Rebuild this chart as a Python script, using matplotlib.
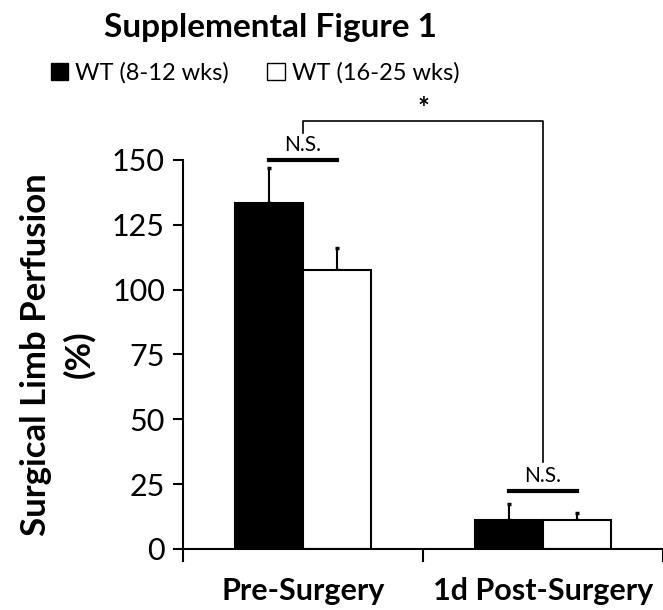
#!/usr/bin/env python3
"""Supplemental Figure 1: surgical limb perfusion, WT young vs old."""
import matplotlib
matplotlib.use("Agg")
import matplotlib.pyplot as plt
from matplotlib.patches import Patch
import numpy as np

plt.rcParams['font.family'] = ['Lato', 'DejaVu Sans']

groups = ['Pre-Surgery', '1d Post-Surgery']
series = ['WT (8-12 wks)', 'WT (16-25 wks)']
young = [133.4, 11.2]
young_err = [13.5, 6.2]
old = [107.6, 11.2]
old_err = [8.6, 2.6]
yticks = [0, 25, 50, 75, 100, 125, 150]
BLACK, WHITE = "#000000", "#FFFFFF"

fig = plt.figure(figsize=(6.63, 6.10), dpi=100)
ax = fig.add_axes([183/663, 0.1, 1 - 183/663, 0.638])

x = np.arange(len(groups))
w = 0.285
ax.bar(x - w/2, young, width=w, color=BLACK, edgecolor=BLACK, lw=1.5, zorder=2)
ax.bar(x + w/2, old, width=w, color=WHITE, edgecolor=BLACK, lw=1.5, zorder=2)
ax.errorbar(x - w/2, young, yerr=[np.zeros(2), young_err], fmt='none', ecolor=BLACK,
            elinewidth=1.5, capsize=1.5, capthick=2.5, zorder=1)
ax.errorbar(x + w/2, old, yerr=[np.zeros(2), old_err], fmt='none', ecolor=BLACK,
            elinewidth=1.5, capsize=1.5, capthick=2.5, zorder=1)

ax.set_xlim(-0.5, 1.5)
ax.set_ylim(0, 150)
ax.set_yticks(yticks)
ax.tick_params(axis='y', direction='out', length=7, width=1.5, labelsize=22, pad=6)
ax.set_xticks(x)
ax.set_xticklabels(groups, fontsize=22, fontweight='bold')
ax.tick_params(axis='x', length=0, pad=20)
ax.set_xticks([-0.5, 0.5, 1.5], minor=True)
ax.tick_params(axis='x', which='minor', direction='out', length=9, width=1.5)
for s in ['top', 'right']:
    ax.spines[s].set_visible(False)
for s in ['left', 'bottom']:
    ax.spines[s].set_linewidth(1.5)

ax.set_ylabel('Surgical Limb Perfusion\n(%)', fontsize=25, fontweight='bold', labelpad=12,
              linespacing=1.4)

# significance marks
ns_y = [150, 22.4]
for xi, yi in zip(x, ns_y):
    ax.plot([xi - w/2, xi + w/2], [yi, yi], color=BLACK, lw=3, clip_on=False)
    ax.text(xi, yi + 2, 'N.S.', ha='center', va='bottom', fontsize=15, clip_on=False)
ax.plot([0, 0, 1, 1], [160.4, 165, 165, 33.7], color=BLACK, lw=1.2, clip_on=False)
ax.text(0.5, 164.5, '*', ha='center', va='bottom', fontsize=20, fontweight='bold', clip_on=False)

fig.text(271/663, 1 - 28/610, 'Supplemental Figure 1', ha='center', va='center',
         fontsize=24, fontweight='bold')
handles = [Patch(facecolor=BLACK, edgecolor=BLACK), Patch(facecolor=WHITE, edgecolor=BLACK)]
fig.legend(handles, series, loc='center', bbox_to_anchor=(255/663, 1 - 73/610), ncol=2,
           frameon=False, fontsize=17, handlelength=0.75, handleheight=0.75,
           handletextpad=0.3, columnspacing=1.6, borderpad=0)

fig.savefig('out.png', dpi=100, facecolor=WHITE)
